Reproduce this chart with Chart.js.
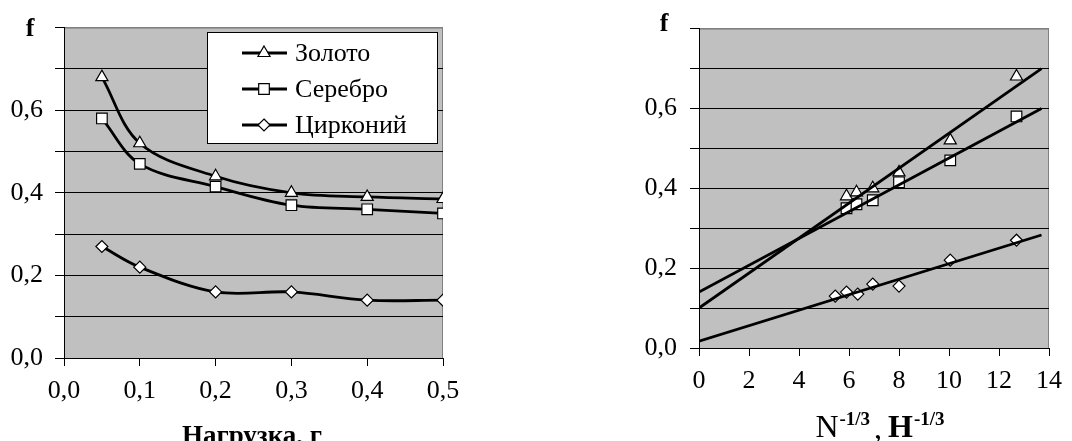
<!DOCTYPE html>
<html>
<head>
<meta charset="utf-8">
<script src="https://cdn.jsdelivr.net/npm/chart.js@4.4.0/dist/chart.umd.min.js"></script>
<style>
  html, body { margin: 0; padding: 0; background: #fff; }
  #wrap { position: relative; width: 1072px; height: 441px; overflow: hidden; }
  #left { position: absolute; left: 0; top: 0; }
  #right { position: absolute; left: 540px; top: 0; }
</style>
</head>
<body>
<div id="wrap">
  <canvas id="left" width="540" height="441"></canvas>
  <canvas id="right" width="532" height="441"></canvas>
</div>
<script>
// left chart: f vs load
var loadValues = [0.05, 0.1, 0.2, 0.3, 0.4, 0.5];
var goldF   = [0.68, 0.52, 0.44, 0.40, 0.39, 0.385];
var silverF = [0.58, 0.47, 0.415, 0.37, 0.36, 0.35];
var zirconF = [0.27, 0.22, 0.16, 0.16, 0.14, 0.14];
var seriesNames = ['Золото', 'Серебро', 'Цирконий'];

// right chart: f vs N^-1/3, H^-1/3
var goldX   = [5.9, 6.3, 6.95, 8.0, 10.05, 12.7];
var goldY   = [0.38, 0.39, 0.40, 0.44, 0.52, 0.68];
var silverX = [5.9, 6.3, 6.95, 8.0, 10.05, 12.7];
var silverY = [0.35, 0.36, 0.37, 0.415, 0.47, 0.58];
var zirconX = [5.45, 5.9, 6.35, 6.95, 8.0, 10.05, 12.7];
var zirconY = [0.13, 0.14, 0.135, 0.16, 0.155, 0.22, 0.27];
var trendX      = [0, 13.7];
var goldTrend   = [0.10, 0.70];
var silverTrend = [0.14, 0.60];
var zirconTrend = [0.017, 0.283];

Chart.defaults.font.family = "'Liberation Serif', 'Times New Roman', serif";
Chart.defaults.font.size = 26;
Chart.defaults.color = '#000';

var SERIF = "'Liberation Serif', 'Times New Roman', serif";
var styles = ['triangle', 'rect', 'rectRot'];
var radii = [7, 7.5, 6];

function pts(xs, ys) {
  return xs.map(function(x, i) { return {x: x, y: ys[i]}; });
}
function comma(v) { return v.toFixed(1).replace('.', ','); }

function drawMarker(ctx, style, r, x, y) {
  ctx.beginPath();
  if (style == 'triangle') {
    ctx.moveTo(x, y - r);
    ctx.lineTo(x + r * 0.866, y + r * 0.5);
    ctx.lineTo(x - r * 0.866, y + r * 0.5);
  } else if (style == 'rect') {
    var s = r * Math.SQRT1_2;
    ctx.rect(x - s, y - s, 2 * s, 2 * s);
  } else {
    ctx.moveTo(x, y - r); ctx.lineTo(x + r, y); ctx.lineTo(x, y + r); ctx.lineTo(x - r, y);
  }
  ctx.closePath();
  ctx.fillStyle = '#fff';
  ctx.fill();
  ctx.lineWidth = 1.2;
  ctx.strokeStyle = '#000';
  ctx.stroke();
}

// grey plot area with grey frame on top and right
var plotFrame = {
  id: 'plotFrame',
  beforeDraw: function(chart) {
    var a = chart.chartArea, ctx = chart.ctx;
    ctx.save();
    ctx.fillStyle = '#c0c0c0';
    ctx.fillRect(a.left, a.top, a.right - a.left, a.bottom - a.top);
    ctx.strokeStyle = '#808080';
    ctx.lineWidth = 1;
    ctx.beginPath();
    ctx.moveTo(a.left, a.top + 0.5);
    ctx.lineTo(Math.round(a.right) - 0.5, a.top + 0.5);
    ctx.lineTo(Math.round(a.right) - 0.5, a.bottom);
    ctx.stroke();
    ctx.restore();
  }
};

function yTicks(pad) {
  return {
    padding: pad,
    callback: function(v) {
      var k = Math.round(v * 10);
      return (k % 2 == 0 && k < 8) ? comma(k / 10) : '';
    }
  };
}

function yGrid() {
  return {
    tickLength: 9,
    tickColor: '#000',
    lineWidth: 1,
    color: function(c) {
      return (c.tick && Math.round(c.tick.value * 10) == 8) ? '#808080' : '#000';
    }
  };
}

// ---------- left chart ----------
var leftExtras = {
  id: 'leftExtras',
  afterDraw: function(chart) {
    var ctx = chart.ctx;
    ctx.save();
    ctx.fillStyle = '#000';
    ctx.font = 'bold 26px ' + SERIF;
    ctx.textAlign = 'center';
    ctx.textBaseline = 'alphabetic';
    ctx.fillText('f', 30, 36);
    ctx.font = 'bold 27px ' + SERIF;
    ctx.fillText('Нагрузка, г', 252, 444);

    // legend box
    ctx.fillStyle = '#fff';
    ctx.fillRect(207, 32, 230, 111);
    ctx.strokeStyle = '#000';
    ctx.lineWidth = 1;
    ctx.strokeRect(207.5, 32.5, 230, 111);
    for (var i = 0; i < seriesNames.length; i++) {
      var y = 53 + i * 36;
      ctx.beginPath();
      ctx.moveTo(242, y);
      ctx.lineTo(287, y);
      ctx.lineWidth = 2.8;
      ctx.strokeStyle = '#000';
      ctx.stroke();
      drawMarker(ctx, styles[i], radii[i], 264, y);
      ctx.fillStyle = '#000';
      ctx.font = '26px ' + SERIF;
      ctx.textAlign = 'left';
      ctx.textBaseline = 'middle';
      ctx.fillText(seriesNames[i], 295, y + 1);
    }
    ctx.restore();
  }
};

var leftSeries = [goldF, silverF, zirconF];
new Chart(document.getElementById('left'), {
  type: 'line',
  data: {
    datasets: leftSeries.map(function(s, i) {
      return {
        label: seriesNames[i],
        data: pts(loadValues, s),
        borderColor: '#000',
        borderWidth: 2.8,
        tension: 0.35,
        pointStyle: styles[i],
        pointRadius: radii[i],
        pointBackgroundColor: '#fff',
        pointBorderColor: '#000',
        pointBorderWidth: 1.2
      };
    })
  },
  options: {
    responsive: false,
    animation: false,
    layout: { padding: { left: 0, right: 97, top: 25, bottom: 0 } },
    plugins: { legend: { display: false }, tooltip: { enabled: false } },
    scales: {
      x: {
        type: 'linear', min: 0, max: 0.5,
        ticks: { stepSize: 0.1, padding: 10, callback: function(v) { return comma(v); } },
        grid: { drawOnChartArea: false, tickLength: 8, tickColor: '#000', color: '#000' },
        border: { color: '#000', width: 1 },
        afterFit: function(s) { s.height = 83; }
      },
      y: {
        min: 0, max: 0.8,
        ticks: Object.assign({ stepSize: 0.1 }, yTicks(12)),
        grid: yGrid(),
        border: { color: '#000', width: 1 },
        afterFit: function(s) { s.width = 64; }
      }
    }
  },
  plugins: [plotFrame, leftExtras]
});

// ---------- right chart ----------
var rightExtras = {
  id: 'rightExtras',
  afterDraw: function(chart) {
    var ctx = chart.ctx;
    ctx.save();
    ctx.fillStyle = '#000';
    ctx.font = 'bold 26px ' + SERIF;
    ctx.textAlign = 'center';
    ctx.textBaseline = 'alphabetic';
    ctx.fillText('f', 124, 31);

    // N^-1/3 , H^-1/3 written piece by piece
    ctx.textAlign = 'left';
    var base = 437;
    var parts = [
      ['32px ' + SERIF, 'N', 0, 1],
      ['bold 19px ' + SERIF, '-1/3', -12, 4],
      ['32px ' + SERIF, ',', 1, 6],
      ['bold 32px ' + SERIF, 'H', 0, 1],
      ['bold 19px ' + SERIF, '-1/3', -12, 0]
    ];
    var total = 0;
    parts.forEach(function(p) { ctx.font = p[0]; total += ctx.measureText(p[1]).width + p[3]; });
    var x = 340 - total / 2;
    parts.forEach(function(p) {
      ctx.font = p[0];
      ctx.fillText(p[1], x, base + p[2]);
      x += ctx.measureText(p[1]).width + p[3];
    });
    ctx.restore();
  }
};

var pointSets = [[goldX, goldY], [silverX, silverY], [zirconX, zirconY]];
var trendSets = [goldTrend, silverTrend, zirconTrend];
var rightData = [];
trendSets.forEach(function(t, i) {
  rightData.push({
    type: 'line',
    label: seriesNames[i] + ' trend',
    data: pts(trendX, t),
    borderColor: '#000',
    borderWidth: 2.8,
    pointRadius: 0,
    tension: 0,
    order: 0
  });
});
pointSets.forEach(function(p, i) {
  rightData.push({
    type: 'scatter',
    label: seriesNames[i],
    data: pts(p[0], p[1]),
    showLine: false,
    pointStyle: styles[i],
    pointRadius: radii[i],
    pointBackgroundColor: '#fff',
    pointBorderColor: '#000',
    pointBorderWidth: 1.2,
    order: 1
  });
});

new Chart(document.getElementById('right'), {
  type: 'scatter',
  data: { datasets: rightData },
  options: {
    responsive: false,
    animation: false,
    layout: { padding: { left: 0, right: 22, top: 20, bottom: 0 } },
    plugins: { legend: { display: false }, tooltip: { enabled: false } },
    scales: {
      x: {
        type: 'linear', min: 0, max: 14,
        ticks: { stepSize: 2, padding: 10 },
        grid: { drawOnChartArea: false, tickLength: 8, tickColor: '#000', color: '#000' },
        border: { color: '#000', width: 1 },
        afterFit: function(s) { s.height = 93; }
      },
      y: {
        min: 0, max: 0.8,
        ticks: Object.assign({ stepSize: 0.1 }, yTicks(13)),
        grid: yGrid(),
        border: { color: '#000', width: 1 },
        afterFit: function(s) { s.width = 159; }
      }
    }
  },
  plugins: [plotFrame, rightExtras]
});
</script>
</body>
</html>
